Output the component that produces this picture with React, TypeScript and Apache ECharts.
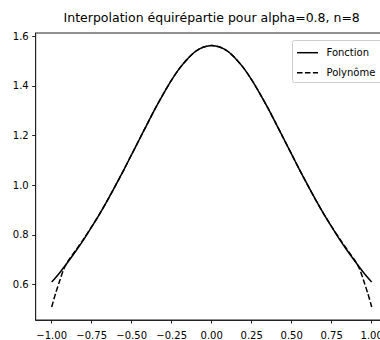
import React, { useEffect, useRef } from "react";
import * as echarts from "echarts";

const titleText = "Interpolation équirépartie pour alpha=0.8, n=8";
const seriesNames = ["Fonction", "Polynôme"];

const xTicks = [-1, -0.75, -0.5, -0.25, 0, 0.25, 0.5, 0.75, 1];
const yTicks = [0.6, 0.8, 1.0, 1.2, 1.4, 1.6];

const xFonction = [
  -1, -0.95, -0.9, -0.85, -0.8, -0.75, -0.7, -0.65, -0.6, -0.55, -0.5, -0.45, -0.4, -0.35, -0.3, -0.25, -0.2, -0.15, -0.1, -0.05,
  0, 0.05, 0.1, 0.15, 0.2, 0.25, 0.3, 0.35, 0.4, 0.45, 0.5, 0.55, 0.6, 0.65, 0.7, 0.75, 0.8, 0.85, 0.9, 0.95, 1,
];
const yFonction = [
  0.610, 0.648, 0.690, 0.734, 0.781, 0.832, 0.885, 0.941, 1.0, 1.061, 1.124, 1.187, 1.25, 1.312, 1.370, 1.424, 1.471, 1.509, 1.539, 1.556,
  1.5625, 1.556, 1.539, 1.509, 1.471, 1.424, 1.370, 1.312, 1.25, 1.187, 1.124, 1.061, 1.0, 0.941, 0.885, 0.832, 0.781, 0.734, 0.690, 0.648, 0.610,
];

const xPolynome = [
  -1, -0.975, -0.95, -0.925, -0.9, -0.85, -0.8, -0.75, -0.7, -0.65, -0.6, -0.55, -0.5, -0.45, -0.4, -0.35, -0.3, -0.25, -0.2, -0.15, -0.1, -0.05,
  0, 0.05, 0.1, 0.15, 0.2, 0.25, 0.3, 0.35, 0.4, 0.45, 0.5, 0.55, 0.6, 0.65, 0.7, 0.75, 0.8, 0.85, 0.9, 0.925, 0.95, 0.975, 1,
];
const yPolynome = [
  0.51, 0.566, 0.615, 0.662, 0.692, 0.738, 0.784, 0.833, 0.885, 0.941, 1.0, 1.061, 1.124, 1.187, 1.25, 1.312, 1.370, 1.424, 1.471, 1.509, 1.539, 1.556,
  1.5625, 1.556, 1.539, 1.509, 1.471, 1.424, 1.370, 1.312, 1.25, 1.187, 1.124, 1.061, 1.0, 0.941, 0.885, 0.833, 0.784, 0.738, 0.692, 0.662, 0.615, 0.566, 0.51,
];

const FONT = "DejaVu Sans";

export default function App() {
  const ref = useRef<HTMLDivElement>(null);
  useEffect(() => {
    if (!ref.current) return;
    const chart = echarts.init(ref.current, null, { renderer: "svg" });
    const fmtX = (v: number) => (v < 0 ? "\u2212" : "") + Math.abs(v).toFixed(2);
    const fmtY = (v: number) => v.toFixed(1);
    const axisColor = "#222";
    chart.setOption({
      animation: false,
      backgroundColor: "#fff",
      title: {
        text: titleText,
        left: 211.7,
        top: 11,
        padding: 0,
        textAlign: "center",
        textStyle: { fontSize: 12.5, fontWeight: "normal", fontFamily: FONT, color: "#000" },
      },
      grid: {
        left: 35.7,
        right: 12.3,
        top: 33,
        bottom: 20,
        show: true,
        borderColor: axisColor,
        borderWidth: 1,
        backgroundColor: "transparent",
      },
      xAxis: {
        type: "value",
        min: -1.1,
        max: 1.1,
        axisLine: { show: true, onZero: false, lineStyle: { color: axisColor, width: 1 } },
        axisTick: { show: true, length: 3.5, customValues: xTicks, lineStyle: { color: axisColor } },
        axisLabel: { customValues: xTicks, formatter: fmtX, fontSize: 10, fontFamily: FONT, color: "#000", margin: 10 },
        splitLine: { show: false },
      },
      yAxis: {
        type: "value",
        min: 0.4575,
        max: 1.6125,
        axisLine: { show: true, onZero: false, lineStyle: { color: axisColor, width: 1 } },
        axisTick: { show: true, length: 3.5, customValues: yTicks, lineStyle: { color: axisColor } },
        axisLabel: { customValues: yTicks, formatter: fmtY, fontSize: 10, fontFamily: FONT, color: "#000", margin: 7 },
        splitLine: { show: false },
      },
      series: [
        {
          name: seriesNames[0],
          type: "line",
          showSymbol: false,
          smooth: 0.3,
          data: xFonction.map((x, i) => [x, yFonction[i]]),
          lineStyle: { color: "#000", width: 1.5 },
          itemStyle: { color: "#000" },
        },
        {
          name: seriesNames[1],
          type: "line",
          showSymbol: false,
          smooth: 0.3,
          data: xPolynome.map((x, i) => [x, yPolynome[i]]),
          lineStyle: { color: "#000", width: 1.5, type: [5.55, 2.4] },
          itemStyle: { color: "#000" },
        },
      ],
      graphic: [
        {
          type: "group",
          z: 100,
          children: [
            {
              type: "rect",
              shape: { x: 292.5, y: 40.5, width: 95, height: 42, r: 2 },
              style: { fill: "rgba(255,255,255,0.8)", stroke: "#ccc", lineWidth: 1 },
            },
            {
              type: "line",
              shape: { x1: 297, y1: 52.7, x2: 318, y2: 52.7 },
              style: { stroke: "#000", lineWidth: 1.5 },
            },
            {
              type: "line",
              shape: { x1: 297, y1: 72.7, x2: 318, y2: 72.7 },
              style: { stroke: "#000", lineWidth: 1.5, lineDash: [5.55, 2.4] },
            },
            {
              type: "text",
              x: 326.5,
              y: 52.7,
              style: { text: seriesNames[0], fontSize: 10, fontFamily: FONT, fill: "#000", verticalAlign: "middle" },
            },
            {
              type: "text",
              x: 326.5,
              y: 72.7,
              style: { text: seriesNames[1], fontSize: 10, fontFamily: FONT, fill: "#000", verticalAlign: "middle" },
            },
          ],
        },
      ],
    });
    return () => chart.dispose();
  }, []);
  return (
    <div
      style={{
        position: "fixed",
        left: 0,
        top: 0,
        width: 380,
        height: 340,
        overflow: "hidden",
        background: "#fff",
      }}
    >
      <div ref={ref} style={{ width: 400, height: 340 }} />
    </div>
  );
}
